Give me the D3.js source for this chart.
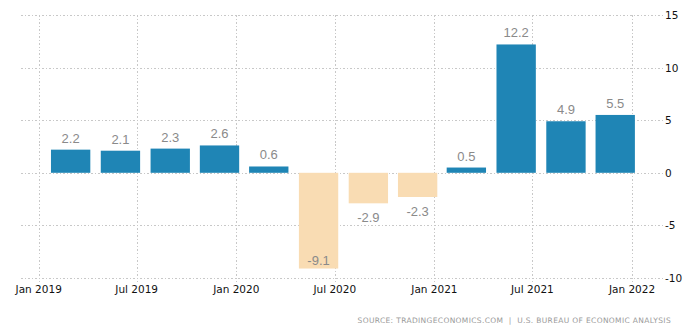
<!DOCTYPE html>
<html>
<head>
<meta charset="utf-8">
<script src="https://cdn.jsdelivr.net/npm/d3@7"></script>
<style>
  body { margin: 0; background: #fff; }
  svg { display: block; }
  .grid line { stroke: #c8c8c8; stroke-dasharray: 1.5 2; shape-rendering: crispEdges; }
</style>
</head>
<body>
<svg id="chart"></svg>
<script>
// quarterly GDP growth, annualized
const quarters = ["2019Q1","2019Q2","2019Q3","2019Q4","2020Q1","2020Q2","2020Q3","2020Q4","2021Q1","2021Q2","2021Q3","2021Q4"];
const barDates = ["2019-03-01","2019-06-01","2019-09-01","2019-12-01","2020-03-01","2020-06-01","2020-09-01","2020-12-01","2021-03-01","2021-06-01","2021-09-01","2021-12-01"];
const values = [2.2, 2.1, 2.3, 2.6, 0.6, -9.1, -2.9, -2.3, 0.5, 12.2, 4.9, 5.5];
const yTicks = [15, 10, 5, 0, -5, -10];
const xTickDates = ["2019-01-01","2019-07-01","2020-01-01","2020-07-01","2021-01-01","2021-07-01","2022-01-01"];
const source = "SOURCE: TRADINGECONOMICS.COM  |  U.S. BUREAU OF ECONOMIC ANALYSIS";

const W = 691, H = 331;
const margin = {left: 21, right: 663, top: 15, bottom: 278};

const parse = d3.timeParse("%Y-%m-%d");
const data = values.map((v, i) => ({q: quarters[i], date: parse(barDates[i]), value: v}));

const svg = d3.select("#chart").attr("width", W).attr("height", H);

const x = d3.scaleTime()
  .domain([parse("2019-01-01"), parse("2022-01-01")])
  .range([38.7, 632]);

const y = d3.scaleLinear()
  .domain([-10, 15])
  .range([margin.bottom, margin.top]);

// grid
const grid = svg.append("g").attr("class", "grid");
grid.selectAll("line.h")
  .data(yTicks)
  .enter().append("line")
  .attr("x1", margin.left).attr("x2", margin.right)
  .attr("y1", d => Math.round(y(d)) + 0.5)
  .attr("y2", d => Math.round(y(d)) + 0.5);
grid.selectAll("line.v")
  .data(xTickDates.map(parse))
  .enter().append("line")
  .attr("x1", d => Math.round(x(d)) + 0.5)
  .attr("x2", d => Math.round(x(d)) + 0.5)
  .attr("y1", margin.top).attr("y2", margin.bottom + 4);

// bars
const halfW = (x(parse("2019-06-01")) - x(parse("2019-03-01"))) * 0.395;
svg.selectAll("rect.bar")
  .data(data)
  .enter().append("rect")
  .attr("class", "bar")
  .attr("fill", d => d.value >= 0 ? "#1f85b5" : "#f9dcb3")
  .attr("x", d => x(d.date) - halfW)
  .attr("width", halfW * 2)
  .attr("y", d => y(Math.max(0, d.value)))
  .attr("height", d => Math.abs(y(d.value) - y(0)));

// value labels
svg.selectAll("text.val")
  .data(data)
  .enter().append("text")
  .attr("class", "val")
  .attr("x", d => x(d.date))
  .attr("y", d => {
    if (d.value >= 0) return y(d.value) - 7;
    if (y(d.value) + 20 > margin.bottom) return y(d.value) - 4;
    return y(d.value) + 19;
  })
  .attr("text-anchor", "middle")
  .style("font-family", "'Liberation Sans', Arial, sans-serif")
  .style("font-size", "13px")
  .style("fill", "#8a8a8a")
  .text(d => d.value.toFixed(1));

// x axis labels
const fmt = d3.timeFormat("%b %Y");
svg.append("g")
  .selectAll("text")
  .data(xTickDates.map(parse))
  .enter().append("text")
  .attr("x", d => x(d))
  .attr("y", 293)
  .attr("text-anchor", "middle")
  .style("font-family", "'DejaVu Sans', sans-serif")
  .style("font-size", "10.5px")
  .style("fill", "#111")
  .text(d => fmt(d));

// y axis labels
svg.append("g")
  .selectAll("text")
  .data(yTicks)
  .enter().append("text")
  .attr("x", 665)
  .attr("y", d => y(d) + 4)
  .style("font-family", "'DejaVu Sans', sans-serif")
  .style("font-size", "10.5px")
  .style("fill", "#111")
  .text(d => d);

// source
svg.append("text")
  .attr("x", 671)
  .attr("y", 323)
  .attr("text-anchor", "end")
  .style("font-family", "'DejaVu Sans', sans-serif")
  .style("font-size", "7.5px")
  .style("letter-spacing", "0.35px")
  .style("fill", "#9a9a9a")
  .style("white-space", "pre")
  .text(source);
</script>
</body>
</html>
